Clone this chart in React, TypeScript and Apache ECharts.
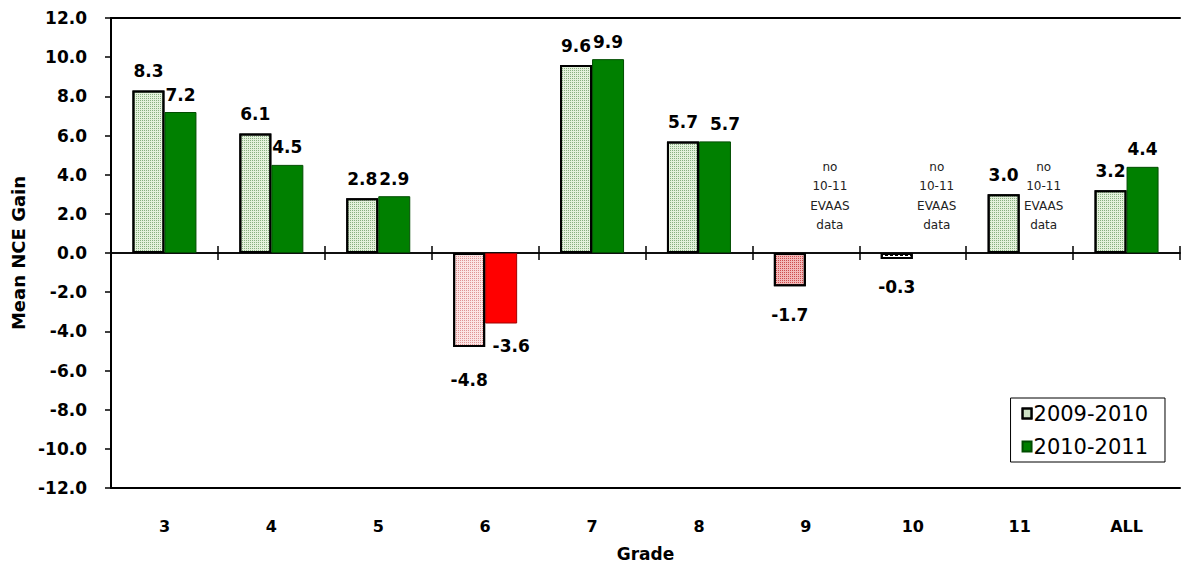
import React, { useEffect, useRef } from "react";
import * as echarts from "echarts";

// Mean NCE gain by grade, two school years
const grades = ["3", "4", "5", "6", "7", "8", "9", "10", "11", "ALL"];
const gain0910 = [8.3, 6.1, 2.8, -4.8, 9.6, 5.7, -1.7, -0.3, 3.0, 3.2];
const gain1011: (number | null)[] = [7.2, 4.5, 2.9, -3.6, 9.9, 5.7, null, null, null, 4.4];
const seriesNames = ["2009-2010", "2010-2011"];
const yMin = -12;
const yMax = 12;
const yStep = 2;
const noDataNote = "no\n10-11\nEVAAS\ndata";

const FONT = "DejaVu Sans";

// fine dot patterns used for the 2009-2010 bars
const dots = (color: string, gap = 1) => ({
  symbol: "rect",
  symbolSize: 1,
  dashArrayX: [1, gap],
  dashArrayY: [1, gap],
  color,
});

const greenFill = { color: "#e4f1dc", decal: dots("rgba(60,120,50,0.55)") };
const pinkFill = { color: "#fbe4e4", decal: dots("rgba(200,80,80,0.55)") };
const redHatch = { color: "#f2b8b8", decal: dots("rgba(190,40,40,0.75)") };
const whiteDash = {
  color: "#ffffff",
  decal: { symbol: "rect", symbolSize: 1, dashArrayX: [3, 2], dashArrayY: [1, 2], color: "#000" },
};

const fillForGrade = (g: string, v: number) => {
  if (g === "10") return whiteDash;
  if (g === "9") return redHatch;
  if (v < 0) return pinkFill;
  return greenFill;
};

const valueLabel = {
  show: true,
  fontFamily: FONT,
  fontWeight: "bold" as const,
  fontSize: 17,
  color: "#000",
  formatter: (p: any) => Number(p.value).toFixed(1),
};

export default function App() {
  const ref = useRef<HTMLDivElement>(null);

  useEffect(() => {
    if (!ref.current) return;
    const chart = echarts.init(ref.current, null, { renderer: "svg" });

    const data0910 = gain0910.map((v, i) => {
      const fill = fillForGrade(grades[i], v);
      return {
        value: v,
        itemStyle: { color: fill.color, decal: fill.decal, borderColor: "#000", borderWidth: 2 },
        label: {
          ...valueLabel,
          position: v < 0 ? "bottom" : "top",
          distance: v === -4.8 ? 24 : v < 0 ? 20 : 11,
        },
      };
    });

    const data1011 = gain1011.map((v) => {
      if (v === null) {
        return {
          value: 0,
          itemStyle: { color: "transparent", borderWidth: 0 },
          label: {
            show: true,
            position: "top",
            distance: 18,
            offset: [8, 0],
            formatter: noDataNote,
            fontFamily: FONT,
            fontSize: 12,
            lineHeight: 19.5,
            color: "#222",
            align: "center",
          },
        };
      }
      const neg = v < 0;
      return {
        value: v,
        itemStyle: {
          color: neg ? "#ff0000" : "#008000",
          borderColor: neg ? "#a00000" : "#004d00",
          borderWidth: 1,
        },
        label: {
          ...valueLabel,
          position: neg ? "bottom" : "top",
          distance: neg ? 14 : 9,
          offset: neg ? [10, 0] : v === 5.7 ? [10, 0] : [0, 0],
        },
      };
    });

    const hiddenCat = {
      type: "category",
      data: grades,
      position: "bottom",
      axisLabel: { show: false },
      splitLine: { show: false },
    };

    chart.setOption({
      animation: false,
      backgroundColor: "#fff",
      textStyle: { fontFamily: FONT },
      grid: { left: 111, right: 3, top: 18, bottom: 75, containLabel: false },
      legend: {
        data: seriesNames,
        orient: "vertical",
        right: 18,
        top: 398,
        icon: "rect",
        itemWidth: 9,
        itemHeight: 10,
        itemGap: 12,
        padding: [5, 17, 5, 11],
        borderColor: "#000",
        borderWidth: 1,
        backgroundColor: "#fff",
        textStyle: { fontFamily: FONT, fontSize: 21, color: "#000", padding: [0, 0, 0, -3] },
      },
      xAxis: [
        {
          type: "category",
          data: grades,
          position: "bottom",
          axisLine: { onZero: false, lineStyle: { color: "#000", width: 2 } },
          axisTick: { show: false },
          axisLabel: {
            margin: 30,
            fontFamily: FONT,
            fontWeight: "bold",
            fontSize: 16,
            color: "#000",
          },
          name: "Grade",
          nameLocation: "middle",
          nameGap: 57,
          nameTextStyle: { fontFamily: FONT, fontWeight: "bold", fontSize: 17, color: "#000" },
        },
        {
          ...hiddenCat,
          axisLine: { onZero: true, onZeroAxisIndex: 0, lineStyle: { color: "#000", width: 1.5 } },
          axisTick: { show: true, interval: 0, inside: true, length: 7, lineStyle: { color: "#000", width: 1.5 } },
        },
        {
          ...hiddenCat,
          axisLine: { onZero: true, onZeroAxisIndex: 0, lineStyle: { color: "#000", width: 1.5 } },
          axisTick: { show: true, interval: 0, inside: false, length: 7, lineStyle: { color: "#000", width: 1.5 } },
        },
        {
          ...hiddenCat,
          position: "top",
          axisLine: { onZero: false, lineStyle: { color: "#000", width: 2 } },
          axisTick: { show: false },
        },
      ],
      yAxis: {
        type: "value",
        min: yMin,
        max: yMax,
        interval: yStep,
        axisLine: { show: true, onZero: false, lineStyle: { color: "#000", width: 2 } },
        axisTick: { show: true, length: 6, lineStyle: { color: "#000", width: 1.5 } },
        splitLine: { show: false },
        axisLabel: {
          margin: 24,
          fontFamily: FONT,
          fontWeight: "bold",
          fontSize: 17,
          color: "#000",
          formatter: (v: number) => v.toFixed(1),
        },
        name: "Mean NCE Gain",
        nameLocation: "middle",
        nameRotate: 90,
        nameGap: 84,
        nameTextStyle: { fontFamily: FONT, fontWeight: "bold", fontSize: 18, color: "#000" },
      },
      series: [
        {
          name: seriesNames[0],
          type: "bar",
          xAxisIndex: 0,
          barWidth: 32,
          barGap: "0%",
          itemStyle: { color: greenFill.color, decal: greenFill.decal, borderColor: "#000", borderWidth: 2 },
          data: data0910,
        },
        {
          name: seriesNames[1],
          type: "bar",
          xAxisIndex: 0,
          barWidth: 32,
          barGap: "0%",
          itemStyle: { color: "#008000", borderColor: "#004d00", borderWidth: 1 },
          data: data1011,
        },
      ],
    });

    return () => chart.dispose();
  }, []);

  // pinned to the window's corner so the default body margin does not shift it
  return (
    <div
      ref={ref}
      style={{ position: "fixed", left: 0, top: 0, width: 1183, height: 567 }}
    />
  );
}
